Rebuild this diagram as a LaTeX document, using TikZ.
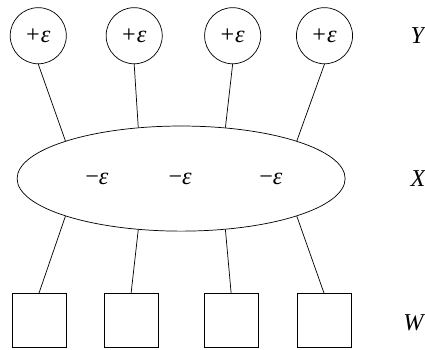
\documentclass[tikz,border=0pt]{standalone}
\usepackage{fontspec}
\setmainfont{Liberation Serif}
\usepackage{tikz}
\usetikzlibrary{shapes,positioning,calc}
\newcommand{\eps}{\textit{ε}}

\begin{document}
\begin{tikzpicture}[
    font=\fontsize{13.5}{16}\selectfont,
    plus/.style={draw,circle,minimum size=1.10cm,inner sep=0pt},
    minus/.style={draw,ellipse,minimum width=6.43cm,minimum height=2.06cm,inner sep=0pt},
    leaf/.style={draw,rectangle,minimum size=1.06cm,inner sep=0pt},
    tag/.style={anchor=west,inner sep=0pt,font=\fontsize{13.5}{16}\selectfont\itshape},
    link/.style={thin,color=black}
  ]
    \useasboundingbox (0,0) rectangle (8.33,-6.86);
    \node[plus] (y1) at (0.75,-0.70) {+\kern0.6pt\eps};
    \node[plus] (y2) at (2.63,-0.70) {+\kern0.6pt\eps};
    \node[plus] (y3) at (4.56,-0.70) {+\kern0.6pt\eps};
    \node[plus] (y4) at (6.36,-0.70) {+\kern0.6pt\eps};
    \node[minus] (x) at (3.55,-3.50) {};
    \node (m1) at (1.90,-3.50) {−\eps};
    \node (m2) at (3.53,-3.50) {−\eps};
    \node (m3) at (5.31,-3.50) {−\eps};
    \node[leaf] (w1) at (0.765,-6.28) {};
    \node[leaf] (w2) at (2.57,-6.28) {};
    \node[leaf] (w3) at (4.53,-6.28) {};
    \node[leaf] (w4) at (6.35,-6.28) {};
    \node[tag] (ly) at (8.04,-0.70) {Y};
    \node[tag] (lx) at (8.04,-3.50) {X};
    \node[tag] (lw) at (7.90,-6.33) {W};

    % upper and lower links of the ellipse
    \draw[link] (y1.south) -- (x.162);
    \draw[link] (y2.south) -- (x.130);
    \draw[link] (y3.south) -- (x.49);
    \draw[link] (y4.south) -- (x.18);
    \draw[link] (x.198) -- (w1.north);
    \draw[link] (x.230) -- (w2.north);
    \draw[link] (x.311) -- (w3.north);
    \draw[link] (x.342) -- (w4.north);
  \end{tikzpicture}
\end{document}
